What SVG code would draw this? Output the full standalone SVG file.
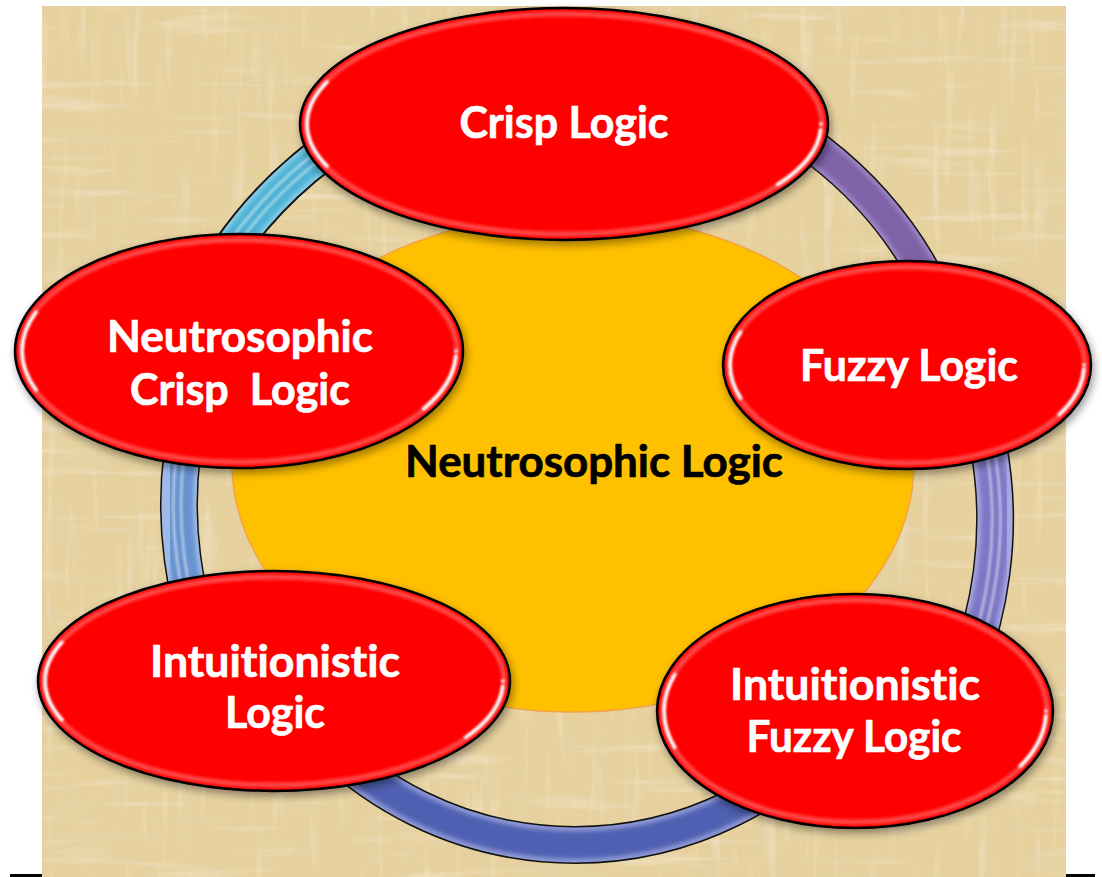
<svg xmlns="http://www.w3.org/2000/svg" xmlns:xlink="http://www.w3.org/1999/xlink" width="1102" height="877" viewBox="0 0 1102 877">
<style>
.ef{fill:#ff0000}
.eo{fill:none;stroke:#000;stroke-width:2.5}
.rim{fill:none;stroke:#ff9090;stroke-width:5;opacity:.5}
.gl{fill:none;stroke:#fff;stroke-width:3.5;stroke-dasharray:0 .5 6 39.5 8 46;stroke-linecap:round}
.lbl{font-family:Lato,"Open Sans","Liberation Sans",sans-serif;font-weight:700;font-size:44px;fill:#fff;stroke:#fff;stroke-width:.7;text-anchor:middle;white-space:pre;font-variant-ligatures:none;font-feature-settings:"liga" 0}
.ctr{font-family:Lato,"Open Sans","Liberation Sans",sans-serif;font-weight:700;font-size:44px;fill:#000;stroke:#000;stroke-width:.7;text-anchor:middle;font-variant-ligatures:none;font-feature-settings:"liga" 0}
.ro{fill:none;stroke:#111}
.rs{fill:none}
.st{fill:none;stroke:#fff;stroke-width:2.5;stroke-opacity:.5}
</style>
<defs>
<filter id="paper" x="0" y="0" width="1" height="1">
<feTurbulence type="fractalNoise" baseFrequency="0.09 0.008" numOctaves="3" seed="2" result="t1"/>
<feColorMatrix in="t1" type="matrix" values="0 0 0 0 0.78  0 0 0 0 0.64  0 0 0 0 0.38  1.3 0 0 0 -0.56" result="d1"/>
<feColorMatrix in="t1" type="matrix" values="0 0 0 0 0.97  0 0 0 0 0.91  0 0 0 0 0.76  0 -1.1 0 0 0.46" result="l1"/>
<feTurbulence type="fractalNoise" baseFrequency="0.008 0.09" numOctaves="3" seed="5" result="t2"/>
<feColorMatrix in="t2" type="matrix" values="0 0 0 0 0.78  0 0 0 0 0.64  0 0 0 0 0.38  1.3 0 0 0 -0.56" result="d2"/>
<feColorMatrix in="t2" type="matrix" values="0 0 0 0 0.97  0 0 0 0 0.91  0 0 0 0 0.76  0 -1.1 0 0 0.46" result="l2"/>
<feMerge><feMergeNode in="SourceGraphic"/><feMergeNode in="d1"/><feMergeNode in="l1"/><feMergeNode in="d2"/><feMergeNode in="l2"/></feMerge>
</filter>
<filter id="sh" x="-10%" y="-10%" width="125%" height="135%">
<feGaussianBlur in="SourceAlpha" stdDeviation="4"/>
<feOffset dx="2" dy="4"/>
<feComponentTransfer><feFuncA type="linear" slope="0.4"/></feComponentTransfer>
<feMerge><feMergeNode/><feMergeNode in="SourceGraphic"/></feMerge>
</filter>
<filter id="b1" x="-5%" y="-5%" width="110%" height="110%"><feGaussianBlur stdDeviation="1"/></filter>
<filter id="b2" x="-5%" y="-5%" width="110%" height="110%"><feGaussianBlur stdDeviation="1.6"/></filter>
<filter id="b3" x="-15%" y="-15%" width="130%" height="130%"><feGaussianBlur stdDeviation="2.2"/></filter>
<path id="pa" d="M181,344.1 A415,415 0 0 1 498.9,77.3"/>
<path id="pb" d="M233.7,709 A408,408 0 0 1 192.9,399.4"/>
<path id="pc" d="M846.9,718.2 A355,355 0 0 1 303.1,718.2"/>
<path id="pd" d="M970.6,381.5 A405,405 0 0 1 921.8,752.3"/>
<path id="pe" d="M644.5,74.1 A400,400 0 0 1 937.5,299"/>
</defs>

<rect x="42" y="6" width="1024" height="871" fill="#E6D09C" filter="url(#paper)"/>
<rect x="10" y="874" width="32" height="3" fill="#000"/>
<rect x="1066" y="874" width="29" height="3" fill="#000"/>

<g id="connectors">
<g id="ring-a">
<use xlink:href="#pa" class="ro" stroke-width="37"/>
<use xlink:href="#pa" class="rs" stroke="#86CDE6" stroke-width="33"/>
<use xlink:href="#pa" class="rs" stroke="#4FB2D5" stroke-width="26" filter="url(#b3)"/>
<use xlink:href="#pa" class="st" filter="url(#b1)" transform="translate(571 486) scale(1.012) translate(-571 -486)"/>
<use xlink:href="#pa" class="st" filter="url(#b1)" transform="translate(571 486) scale(0.992) translate(-571 -486)"/>
</g>
<g id="ring-b">
<use xlink:href="#pb" class="ro" stroke-width="38"/>
<use xlink:href="#pb" class="rs" stroke="#9DBBE6" stroke-width="35"/>
<use xlink:href="#pb" class="rs" stroke="#6893D0" stroke-width="28" filter="url(#b3)"/>
<use xlink:href="#pb" class="st" filter="url(#b1)" transform="translate(587 505) scale(1.014) translate(-587 -505)"/>
<use xlink:href="#pb" class="st" filter="url(#b1)" transform="translate(587 505) scale(0.995) translate(-587 -505)"/>
</g>
<g id="ring-c">
<use xlink:href="#pc" class="ro" stroke-width="38"/>
<use xlink:href="#pc" class="rs" stroke="#8E99D4" stroke-width="35"/>
<use xlink:href="#pc" class="rs" stroke="#5060B2" stroke-width="27" filter="url(#b3)"/>
</g>
<g id="ring-d">
<use xlink:href="#pd" class="ro" stroke-width="38"/>
<use xlink:href="#pd" class="rs" stroke="#A9A6E0" stroke-width="35"/>
<use xlink:href="#pd" class="rs" stroke="#7D78C6" stroke-width="28" filter="url(#b3)"/>
<use xlink:href="#pd" class="st" filter="url(#b1)" transform="translate(590 520) scale(1.013) translate(-590 -520)"/>
<use xlink:href="#pd" class="st" filter="url(#b1)" transform="translate(590 520) scale(0.993) translate(-590 -520)"/>
</g>
<g id="ring-e">
<use xlink:href="#pe" class="ro" stroke-width="35"/>
<use xlink:href="#pe" class="rs" stroke="#9C86C2" stroke-width="32"/>
<use xlink:href="#pe" class="rs" stroke="#7F62A8" stroke-width="25" filter="url(#b3)"/>
</g>
</g>

<g id="neutrosophic-logic">
<ellipse cx="573" cy="463" rx="341" ry="249" fill="#FFC000" stroke="#F2A444" stroke-width="1.5"/>
</g>

<g id="crisp-logic">
<g filter="url(#sh)">
<ellipse cx="564" cy="124" rx="264" ry="116" class="ef"/>
<ellipse cx="564" cy="124" rx="258" ry="110" class="rim" filter="url(#b2)"/>
<ellipse cx="564" cy="124" rx="257" ry="109" class="gl" pathLength="100" filter="url(#b1)"/>
<ellipse cx="564" cy="124" rx="264" ry="116" class="eo"/>
</g>
<text class="lbl" x="564" y="138" textLength="209" lengthAdjust="spacingAndGlyphs">Crisp Logic</text>
</g>

<g id="neutrosophic-crisp-logic">
<g filter="url(#sh)">
<ellipse cx="239" cy="351" rx="224" ry="117" class="ef"/>
<ellipse cx="239" cy="351" rx="218" ry="111" class="rim" filter="url(#b2)"/>
<ellipse cx="239" cy="351" rx="217" ry="110" class="gl" pathLength="100" filter="url(#b1)"/>
<ellipse cx="239" cy="351" rx="224" ry="117" class="eo"/>
</g>
<text class="lbl" x="240" y="352" textLength="266" lengthAdjust="spacingAndGlyphs">Neutrosophic</text>
<text class="lbl" x="240" y="405" textLength="220" lengthAdjust="spacingAndGlyphs">Crisp  Logic</text>
</g>

<g id="fuzzy-logic">
<g filter="url(#sh)">
<ellipse cx="907" cy="365" rx="184" ry="104" class="ef"/>
<ellipse cx="907" cy="365" rx="178" ry="98" class="rim" filter="url(#b2)"/>
<ellipse cx="907" cy="365" rx="177" ry="97" class="gl" pathLength="100" filter="url(#b1)"/>
<ellipse cx="907" cy="365" rx="184" ry="104" class="eo"/>
</g>
<text class="lbl" x="909" y="381" textLength="218" lengthAdjust="spacingAndGlyphs">Fuzzy Logic</text>
</g>

<g id="intuitionistic-logic">
<g filter="url(#sh)">
<ellipse cx="274" cy="681" rx="236" ry="110" class="ef"/>
<ellipse cx="274" cy="681" rx="230" ry="104" class="rim" filter="url(#b2)"/>
<ellipse cx="274" cy="681" rx="229" ry="103" class="gl" pathLength="100" filter="url(#b1)"/>
<ellipse cx="274" cy="681" rx="236" ry="110" class="eo"/>
</g>
<text class="lbl" x="275" y="677" textLength="250" lengthAdjust="spacingAndGlyphs">Intuitionistic</text>
<text class="lbl" x="275" y="728" textLength="100" lengthAdjust="spacingAndGlyphs">Logic</text>
</g>

<g id="intuitionistic-fuzzy-logic">
<g filter="url(#sh)">
<ellipse cx="855" cy="711" rx="198" ry="117" class="ef"/>
<ellipse cx="855" cy="711" rx="192" ry="111" class="rim" filter="url(#b2)"/>
<ellipse cx="855" cy="711" rx="191" ry="110" class="gl" pathLength="100" filter="url(#b1)"/>
<ellipse cx="855" cy="711" rx="198" ry="117" class="eo"/>
</g>
<text class="lbl" x="855" y="700" textLength="250" lengthAdjust="spacingAndGlyphs">Intuitionistic</text>
<text class="lbl" x="854" y="752" textLength="215" lengthAdjust="spacingAndGlyphs">Fuzzy Logic</text>
</g>

<g id="center-label">
<text class="ctr" x="594" y="477" textLength="378" lengthAdjust="spacingAndGlyphs">Neutrosophic Logic</text>
</g>
</svg>
